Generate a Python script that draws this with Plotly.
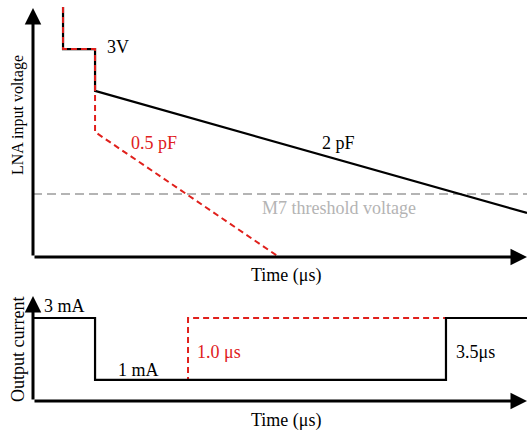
import plotly.graph_objects as go

# --- data (schematic values) ---
# top panel: LNA input voltage (arbitrary units) vs time
v_time_2pF = [0.304, 0.304, 0.628, 0.628, 5.0]
v_volt_2pF = [9.92, 8.25, 8.25, 6.59, 1.75]
v_time_05pF = [0.304, 0.304, 0.628, 0.628, 0.628, 2.49]
v_volt_05pF = [9.92, 8.25, 8.25, 6.59, 4.96, 0.0]
threshold_v = 2.5
v_xrange = [0, 5]
v_yrange = [0, 10]

# bottom panel: output current (mA) vs time
i_time_black = [0.0, 0.628, 0.628, 4.18, 4.18, 5.0]
i_curr_black = [3, 3, 1, 1, 3, 3]
i_time_red = [0.628, 1.569, 1.569, 4.18]
i_curr_red = [1, 1, 3, 3]
i_yrange = [0.32, 3.71]

RED = "#e0201c"
GRAY = "#b4b4b4"
FONT = "Liberation Serif"

fig = go.Figure()

# threshold line
fig.add_trace(go.Scatter(x=v_xrange, y=[threshold_v, threshold_v], mode="lines",
                         line=dict(color=GRAY, width=2, dash="9px,5px"),
                         xaxis="x", yaxis="y", hoverinfo="skip"))
fig.add_trace(go.Scatter(x=v_time_2pF, y=v_volt_2pF, mode="lines",
                         line=dict(color="black", width=2.2),
                         xaxis="x", yaxis="y"))
fig.add_trace(go.Scatter(x=v_time_05pF, y=v_volt_05pF, mode="lines",
                         line=dict(color=RED, width=2, dash="6px,4px"),
                         xaxis="x", yaxis="y"))

fig.add_trace(go.Scatter(x=i_time_red, y=i_curr_red, mode="lines",
                         line=dict(color=RED, width=2, dash="6px,4px"),
                         xaxis="x2", yaxis="y2"))
fig.add_trace(go.Scatter(x=i_time_black, y=i_curr_black, mode="lines",
                         line=dict(color="black", width=2.2),
                         xaxis="x2", yaxis="y2"))

ax_common = dict(visible=False, fixedrange=True)
fig.update_layout(
    width=527, height=434,
    margin=dict(l=33, r=0, t=0, b=0),
    paper_bgcolor="white", plot_bgcolor="white",
    showlegend=False,
    font=dict(family=FONT, size=18, color="black"),
    xaxis=dict(range=v_xrange, domain=[0, 1], anchor="y", **ax_common),
    yaxis=dict(range=v_yrange, domain=[1 - 257 / 434, 1 - 5 / 434], anchor="x", **ax_common),
    xaxis2=dict(range=v_xrange, domain=[0, 1], anchor="y2", **ax_common),
    yaxis2=dict(range=i_yrange, domain=[1 - 401 / 434, 1 - 296 / 434], anchor="x2", **ax_common),
)

def arrow(xref, yref, x0, y0, x1, y1):
    fig.add_annotation(x=x1, y=y1, ax=x0, ay=y0, xref=xref, yref=yref,
                       axref=xref, ayref=yref, text="", showarrow=True,
                       arrowhead=2, arrowsize=1.1, arrowwidth=3, arrowcolor="black",
                       standoff=0, startstandoff=0)

# axis arrows
arrow("x", "y", v_xrange[0], v_yrange[0], v_xrange[0], 9.88)
arrow("x", "y", v_xrange[0], v_yrange[0], v_xrange[1], v_yrange[0])
arrow("x2", "y2", v_xrange[0], i_yrange[0], v_xrange[0], i_yrange[1])
arrow("x2", "y2", v_xrange[0], i_yrange[0], v_xrange[1], i_yrange[0])

def label(text, x, y, xref, yref, color="black", xanchor="center", angle=0, size=18):
    fig.add_annotation(x=x, y=y, xref=xref, yref=yref, text=text, showarrow=False,
                       xanchor=xanchor, yanchor="middle", textangle=angle,
                       font=dict(family=FONT, size=size, color=color))

label("3V", 0.729, 8.33, "x", "y", xanchor="left")
label("0.5 pF", 0.972, 4.52, "x", "y", color=RED, xanchor="left")
label("2 pF", 3.09, 4.52, "x", "y")
label("M7 threshold voltage", 3.10, 1.94, "x", "y", color=GRAY)
label("Time (μs)", 0.514, 0.366, "paper", "paper")
label("LNA input voltage", -0.0304, 0.735, "paper", "paper", angle=-90, size=16)

label("3 mA", 0.314, 3.39, "x2", "y2")
label("1 mA", 1.063, 1.32, "x2", "y2")
label("1.0 μs", 1.64, 1.90, "x2", "y2", color=RED, xanchor="left")
label("3.5μs", 4.26, 1.90, "x2", "y2", xanchor="left")
label("Time (μs)", 0.514, 0.032, "paper", "paper")
label("Output current", -0.0304, 0.196, "paper", "paper", angle=-90)

fig.write_html("out.html", config={"displayModeBar": False},
               post_script="document.body.style.margin='0';document.body.style.padding='0';")
